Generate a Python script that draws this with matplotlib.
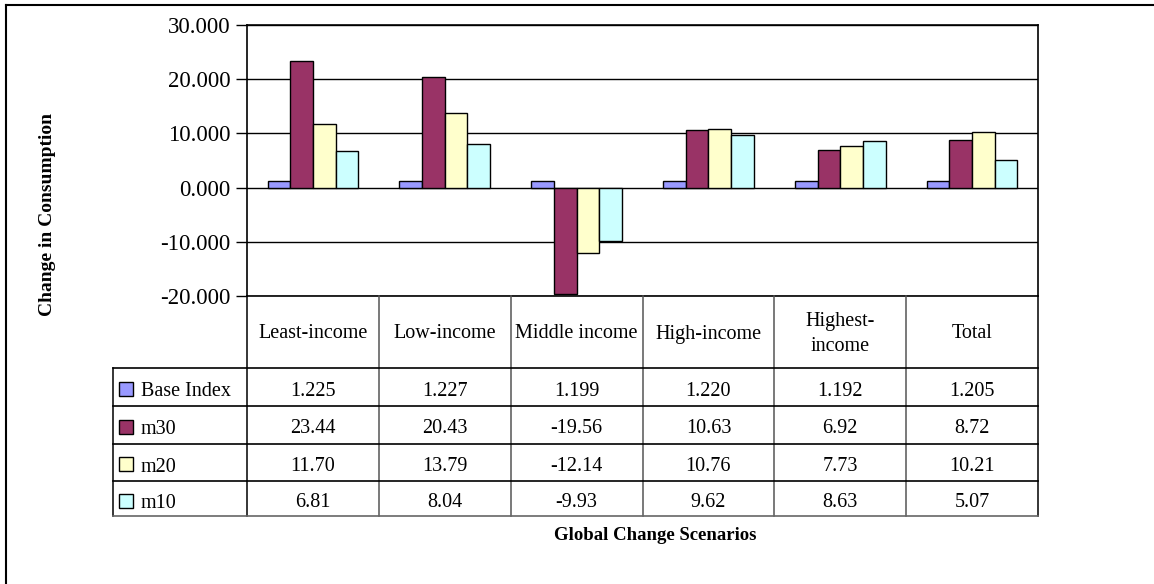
import matplotlib
matplotlib.use("Agg")
import matplotlib.pyplot as plt
from matplotlib.patches import Rectangle

plt.rcParams['font.family'] = ['Liberation Serif', 'DejaVu Serif']
plt.rcParams['axes.unicode_minus'] = False

categories = ["Least-income", "Low-income", "Middle income", "High-income", "Highest-\nincome", "Total"]
series_names = ["Base Index", "m30", "m20", "m10"]
base_index = [1.225, 1.227, 1.199, 1.220, 1.192, 1.205]
m30 = [23.44, 20.43, -19.56, 10.63, 6.92, 8.72]
m20 = [11.70, 13.79, -12.14, 10.76, 7.73, 10.21]
m10 = [6.81, 8.04, -9.93, 9.62, 8.63, 5.07]
table_text = [
    ["1.225", "1.227", "1.199", "1.220", "1.192", "1.205"],
    ["23.44", "20.43", "-19.56", "10.63", "6.92", "8.72"],
    ["11.70", "13.79", "-12.14", "10.76", "7.73", "10.21"],
    ["6.81", "8.04", "-9.93", "9.62", "8.63", "5.07"],
]
y_ticks = [-20, -10, 0, 10, 20, 30]
colors = ["#9999FF", "#993366", "#FFFFCC", "#CCFFFF"]

W, H = 1154, 584
fig = plt.figure(figsize=(W / 100, H / 100), dpi=100)
fig.patch.set_facecolor("white")

# plot area in pixel coordinates
PL, PR, PT, PB = 247, 1038, 25, 296
ax = fig.add_axes([PL / W, 1 - PB / H, (PR - PL) / W, (PB - PT) / H])
ax.set_xlim(-0.5, len(categories) - 0.5)
ax.set_ylim(-20, 30)
ax.set_yticks(y_ticks)
ax.set_yticklabels([f"{v:.3f}" for v in y_ticks], fontsize=16.5)
ax.set_xticks([])
ax.tick_params(axis='y', direction='out', length=8, width=1, pad=4)
for s in ax.spines.values():
    s.set_color("black")
    s.set_linewidth(1.2)
ax.yaxis.grid(True, color="black", linewidth=1)
ax.set_axisbelow(True)

all_series = [base_index, m30, m20, m10]
w = 0.172
for k, vals in enumerate(all_series):
    xs = [i + (k - 1.5) * w for i in range(len(categories))]
    ax.bar(xs, vals, width=w, color=colors[k], edgecolor="black", linewidth=1, zorder=3)

# overlay axes in pixel coordinates for table and frame
ov2 = fig.add_axes([0, 0, 1, 1], zorder=5)
ov2.set_xlim(0, W)
ov2.set_ylim(H, 0)
ov2.axis("off")

# outer frame
ov2.plot([6, 6], [5, H], color="black", lw=1.5)
ov2.plot([6, W], [5, 5], color="black", lw=1.5)

ncat = len(categories)
colw = (PR - PL) / ncat
LX = 113
row_y = [296, 368, 406, 443.7, 481, 516]

# header vertical lines and column lines
for i in range(ncat + 1):
    x = PL + i * colw
    ov2.plot([x, x], [PB, row_y[-1]], color="#555555" if 0 < i < ncat else "black", lw=1.1)
# label column left
ov2.plot([LX, LX], [row_y[1], row_y[-1]], color="black", lw=1.1)
# horizontal row lines
for j in range(1, len(row_y)):
    ov2.plot([LX, PR], [row_y[j], row_y[j]], color="black" if j < len(row_y) - 1 else "#666666", lw=1.2)

# header text
for i, c in enumerate(categories):
    ov2.text(PL + (i + 0.5) * colw, (row_y[0] + row_y[1]) / 2 + 2, c, ha="center", va="center",
             fontsize=14.5, linespacing=1.45)

# rows
for r in range(len(series_names)):
    yc = (row_y[r + 1] + row_y[r + 2]) / 2
    ov2.add_patch(Rectangle((119, yc - 5), 14, 14, facecolor=colors[r], edgecolor="black", lw=1))
    ov2.text(141, yc + 5, series_names[r], ha="left", va="center", fontsize=14.5)
    for i in range(ncat):
        ov2.text(PL + (i + 0.5) * colw, yc + 4, table_text[r][i], ha="center", va="center", fontsize=14.5)

# axis titles
ov2.text(655, 535, "Global Change Scenarios", ha="center", va="center", fontsize=13.5, fontweight="bold")
ov2.text(48, 215, "Change in Consumption", ha="center", va="center", fontsize=14, fontweight="bold",
         rotation=90)

fig.savefig("out.png", dpi=100)
